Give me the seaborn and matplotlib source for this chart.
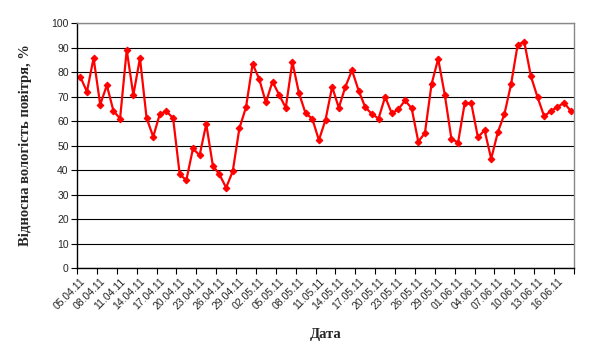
import matplotlib
matplotlib.use("Agg")
import matplotlib.pyplot as plt
import seaborn as sns
import pandas as pd
import numpy as np

# Relative air humidity, daily, 05.04.11 .. 18.06.11
humidity = [
    78.0, 72.0, 85.7, 66.7, 74.6, 64.1, 61.0, 89.0, 70.6, 85.7,
    61.2, 53.6, 62.9, 63.9, 61.2, 38.2, 35.9, 48.8, 46.0, 58.8,
    41.8, 38.2, 32.8, 39.5, 57.0, 65.6, 83.3, 77.1, 67.6, 76.1,
    70.7, 65.4, 84.1, 71.3, 63.1, 61.0, 52.2, 60.5, 74.0, 65.4,
    74.0, 80.7, 72.4, 65.6, 62.9, 61.0, 69.9, 63.1, 64.8, 68.4,
    65.2, 51.6, 55.1, 75.0, 85.4, 70.7, 52.7, 51.2, 67.2, 67.2,
    53.3, 56.3, 44.6, 55.4, 62.9, 75.0, 91.2, 92.2, 78.2, 69.7,
    61.9, 64.1, 65.7, 67.5, 64.1,
]
tick_labels = [
    "05.04.11", "08.04.11", "11.04.11", "14.04.11", "17.04.11",
    "20.04.11", "23.04.11", "26.04.11", "29.04.11", "02.05.11",
    "05.05.11", "08.05.11", "11.05.11", "14.05.11", "17.05.11",
    "20.05.11", "23.05.11", "26.05.11", "29.05.11", "01.06.11",
    "04.06.11", "07.06.11", "10.06.11", "13.06.11", "16.06.11",
]

df = pd.DataFrame({"day": np.arange(len(humidity)), "value": humidity})

sns.set_style("white")
fig = plt.figure(figsize=(5.97, 3.57), dpi=100)
ax = fig.add_axes([0.129, 0.249, 0.8325, 0.6866])

sns.lineplot(data=df, x="day", y="value", ax=ax, color="#FF0000",
             linewidth=1.6, marker="D", markersize=3.4,
             markeredgecolor="#FF0000", markerfacecolor="#FF0000")

n = len(humidity)
ax.set_xlim(-0.5, n - 0.5)
ax.set_ylim(0, 100)
ax.set_yticks(range(0, 101, 10))
ax.yaxis.grid(True, color="black", linewidth=0.8)
ax.set_axisbelow(True)

# category boundaries every 3 days carry the tick marks, labels sit on the days
ax.set_xticks(np.arange(-0.5, n, 3))
ax.set_xticklabels([])
ax.set_xticks(np.arange(0, 3 * len(tick_labels), 3), minor=True)
ax.set_xticklabels(tick_labels, minor=True, rotation=45, ha="right",
                   rotation_mode="anchor", fontsize=7.5, family="Liberation Sans",
                   color="#222222")
ax.tick_params(axis="x", which="major", direction="out", length=4, width=0.8,
               color="black", bottom=True)
ax.tick_params(axis="x", which="minor", length=0, pad=6)
ax.tick_params(axis="y", direction="out", length=4, width=0.8, color="black",
               left=True, labelsize=7.5, pad=2)
for lbl in ax.get_yticklabels():
    lbl.set_family("Liberation Sans")

for side in ["top", "right"]:
    ax.spines[side].set_color("#888888")
    ax.spines[side].set_linewidth(1.0)
for side in ["left", "bottom"]:
    ax.spines[side].set_color("black")
    ax.spines[side].set_linewidth(1.0)

ax.set_xlabel("Дата", family="Liberation Serif", fontweight="bold",
              fontsize=10.5, labelpad=12)
ax.set_ylabel("Відносна вологість повітря, %", family="Liberation Serif",
              fontweight="bold", fontsize=10.5, labelpad=14)

fig.savefig("out.png", dpi=100)
